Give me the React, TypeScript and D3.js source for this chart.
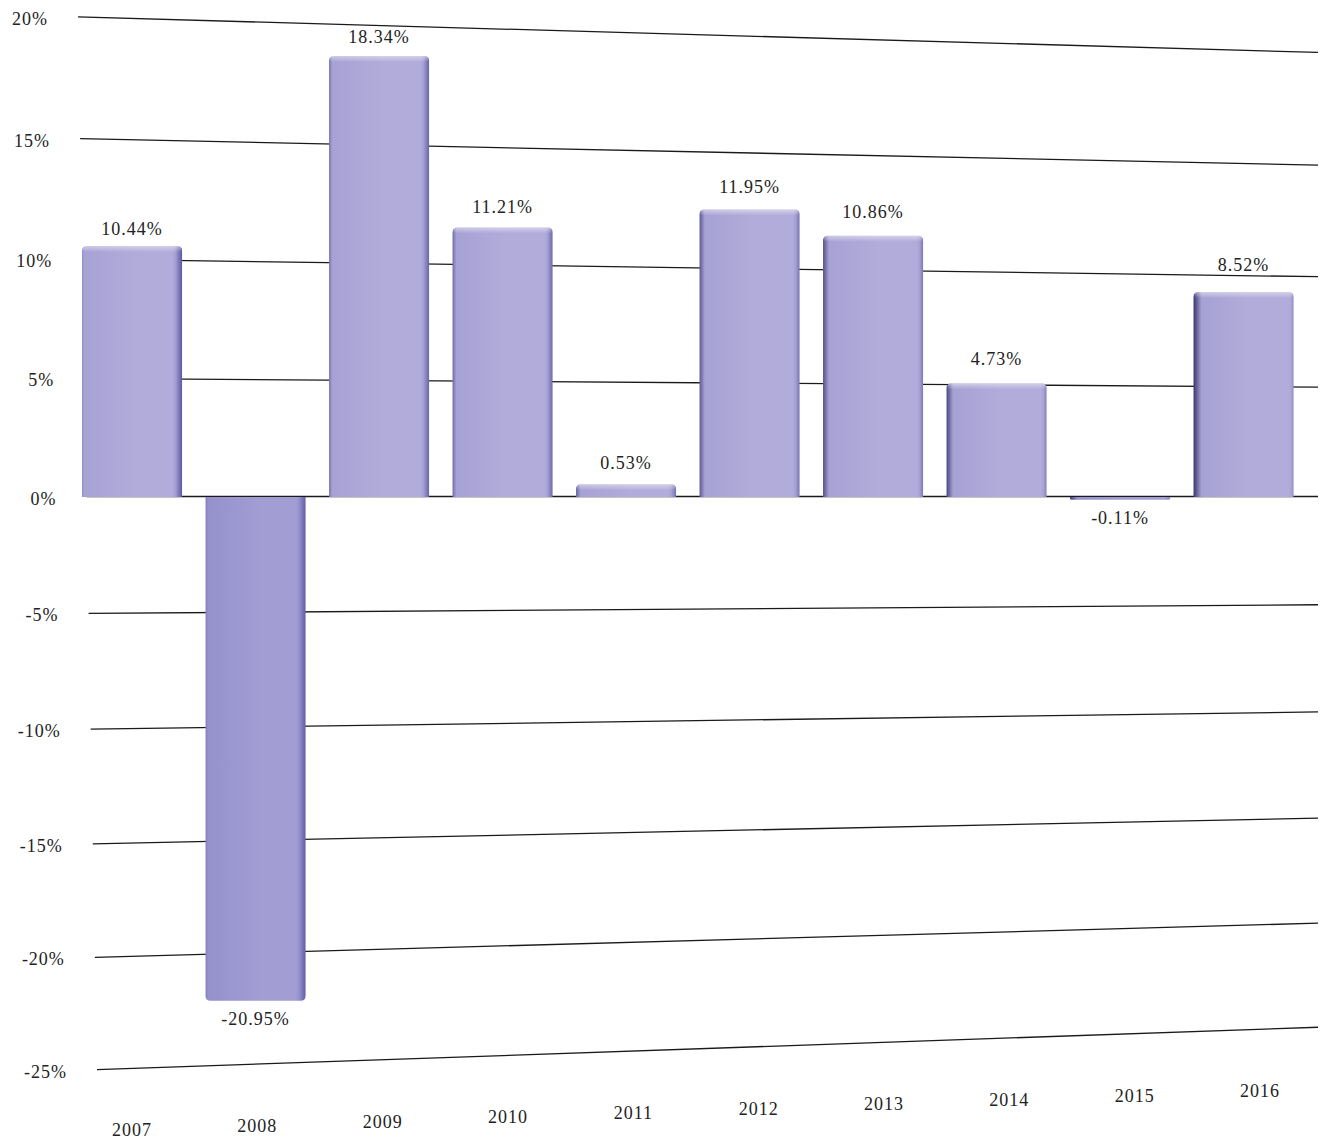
import React from "react";
import * as d3 from "d3";

const years = ["2007", "2008", "2009", "2010", "2011", "2012", "2013", "2014", "2015", "2016"];
const returns = [10.44, -20.95, 18.34, 11.21, 0.53, 11.95, 10.86, 4.73, -0.11, 8.52];
const tickValues = [20, 15, 10, 5, 0, -5, -10, -15, -20, -25];

const W = 1325;
const H = 1140;
const FONT = "'Liberation Serif', 'Times New Roman', serif";

// bar scales
const x = d3.scaleBand<string>().domain(years).range([70.3, 1305.3]).paddingInner(0.19).paddingOuter(0.095);
const y = d3.scaleLinear().domain([0, 20]).range([497, 16]);

// perspective gridlines
const Y0 = 496.5;
const persp = (v: number) => v / (1 - 0.001 * v);
const leftY = d3.scaleLinear().domain([0, persp(20)]).range([Y0, Y0 - 23.5 * persp(20)]);
const rightY = d3.scaleLinear().domain([0, persp(20)]).range([Y0, Y0 - 21.76 * persp(20)]);
const leftX = d3.scaleLinear().domain([20, -25]).range([78, 97]);
const RIGHT_X = 1318;

const gridPoints = (v: number): [number, number][] => [
  [leftX(v), leftY(persp(v))],
  [RIGHT_X, rightY(persp(v))],
];
const yOnLine = (v: number, px: number) => {
  const [[x1, y1], [x2, y2]] = gridPoints(v);
  return y1 + ((y2 - y1) * (px - x1)) / (x2 - x1);
};

// year label positions
const labelX = d3.scalePoint<string>().domain(years).range([132, 1260]);
// value label lift grows with depth (left to right)
const labelLift = d3.scaleLinear().domain([130, 1250]).range([11, 21]);

const line = d3.line();

function barPath(x0: number, w: number, yTop: number, yBot: number, positive: boolean) {
  const h = yBot - yTop;
  const r = Math.min(5, h / 2, w / 2);
  const p = d3.path();
  if (positive) {
    p.moveTo(x0, yBot);
    p.lineTo(x0, yTop + r);
    p.quadraticCurveTo(x0, yTop, x0 + r, yTop);
    p.lineTo(x0 + w - r, yTop);
    p.quadraticCurveTo(x0 + w, yTop, x0 + w, yTop + r);
    p.lineTo(x0 + w, yBot);
    p.closePath();
  } else {
    p.moveTo(x0, yTop);
    p.lineTo(x0 + w, yTop);
    p.lineTo(x0 + w, yBot - r);
    p.quadraticCurveTo(x0 + w, yBot, x0 + w - r, yBot);
    p.lineTo(x0 + r, yBot);
    p.quadraticCurveTo(x0, yBot, x0, yBot - r);
    p.closePath();
  }
  return p.toString();
}

const leftEdge = d3.interpolateRgb("#8c88c6", "#37346f");
const rightEdge = d3.interpolateRgb("#5c58a0", "#8e8ac4");

export default function App() {
  const bw = x.bandwidth();
  return (
    <svg
      width={W}
      height={H}
      viewBox={`0 0 ${W} ${H}`}
      style={{ position: "absolute", left: 0, top: 0, background: "#ffffff" }}
    >
      <defs>
        {years.map((yr, i) => {
          const t = i / (years.length - 1);
          const pos = returns[i] >= 0;
          const bodyA = pos ? "#a7a2d4" : "#9491cc";
          const bodyB = pos ? "#b2acda" : "#a29dd3";
          const lw = 2 + 6 * t;
          const rw = 2 + 5 * (1 - t);
          return (
            <linearGradient key={yr} id={`g${i}`} x1="0" x2="1" y1="0" y2="0">
              <stop offset="0%" stopColor={leftEdge(t)} />
              <stop offset={`${lw}%`} stopColor={bodyA} />
              <stop offset="55%" stopColor={bodyB} />
              <stop offset={`${100 - rw - 3}%`} stopColor={bodyB} />
              <stop offset={`${100 - rw}%`} stopColor={bodyA} />
              <stop offset="100%" stopColor={rightEdge(t)} />
            </linearGradient>
          );
        })}
        <linearGradient id="hl" x1="0" x2="0" y1="0" y2="1">
          <stop offset="0%" stopColor="#ffffff" stopOpacity={0.45} />
          <stop offset="100%" stopColor="#ffffff" stopOpacity={0} />
        </linearGradient>
      </defs>

      {/* gridlines */}
      {tickValues.map((v) => (
        <path key={`gl${v}`} d={line(gridPoints(v)) || ""} stroke="#1a1a1a" strokeWidth={1.3} fill="none" />
      ))}

      {/* tick labels */}
      {tickValues.map((v) => {
        const [[lx, ly]] = gridPoints(v);
        return (
          <text
            key={`tl${v}`}
            x={lx - 30}
            y={ly + 8}
            textAnchor="end"
            fontFamily={FONT}
            fontSize={18}
            letterSpacing={1}
            fill="#222"
          >
            {`${v}%`}
          </text>
        );
      })}

      {/* bars */}
      {years.map((yr, i) => {
        const v = returns[i];
        const x0 = x(yr)!;
        const pos = v >= 0;
        const yTop = pos ? y(v) : y(0);
        const yBot = pos ? y(0) : y(v);
        return (
          <g key={`b${yr}`}>
            <path d={barPath(x0, bw, yTop, yBot, pos)} fill={`url(#g${i})`} />
            {pos && yBot - yTop > 8 && (
              <path d={barPath(x0 + 1, bw - 2, yTop, yTop + 6, true)} fill="url(#hl)" />
            )}
          </g>
        );
      })}

      {/* value labels */}
      {years.map((yr, i) => {
        const v = returns[i];
        const cx = x(yr)! + bw / 2;
        const pos = v >= 0;
        const ly = pos ? y(v) - labelLift(cx) : y(v) + 24;
        return (
          <text
            key={`vl${yr}`}
            x={cx}
            y={ly}
            textAnchor="middle"
            fontFamily={FONT}
            fontSize={18}
            letterSpacing={1}
            fill="#222"
          >
            {`${v.toFixed(2)}%`}
          </text>
        );
      })}

      {/* year labels */}
      {years.map((yr) => {
        const lx = labelX(yr)!;
        return (
          <text
            key={`yl${yr}`}
            x={lx}
            y={yOnLine(-25, lx) + 68}
            textAnchor="middle"
            fontFamily={FONT}
            fontSize={18}
            letterSpacing={1}
            fill="#222"
          >
            {yr}
          </text>
        );
      })}
    </svg>
  );
}
